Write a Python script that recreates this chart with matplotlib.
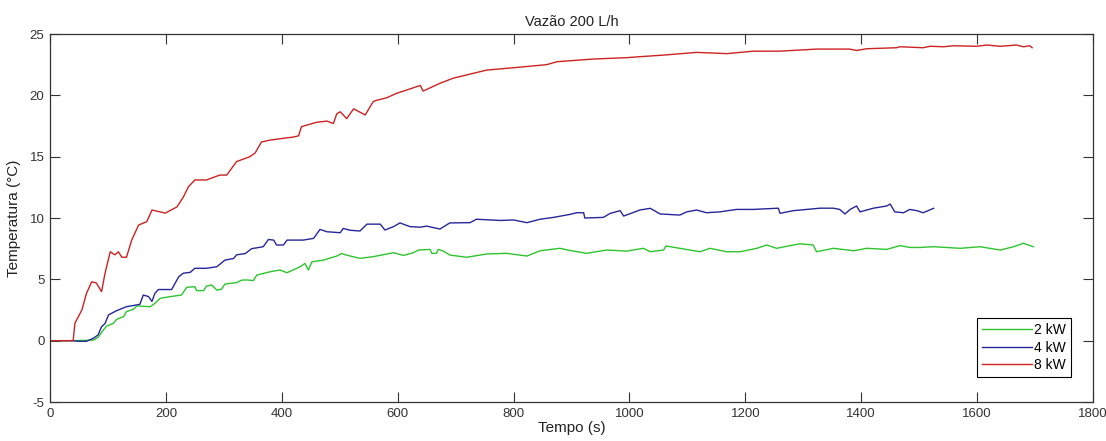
import matplotlib.pyplot as plt

plt.rcParams['font.family'] = ['Liberation Sans', 'DejaVu Sans']
plt.rcParams['axes.unicode_minus'] = False

# 2 kW
t_2kw = [0, 40, 75, 83, 92, 98, 109, 115, 127, 132, 144, 150, 173, 181, 190, 207, 227, 236,
         250, 253, 265, 270, 279, 288, 296, 302, 322, 331, 340, 351, 357, 380, 397, 409, 432,
         440, 446, 452, 472, 495, 503, 518, 535, 558, 593, 610, 627, 636, 656, 659, 667, 670,
         679, 690, 719, 754, 788, 823, 846, 880, 898, 926, 961, 995, 1024, 1036, 1059, 1063,
         1087, 1122, 1139, 1168, 1191, 1220, 1237, 1254, 1294, 1317, 1323, 1352, 1387, 1410,
         1444, 1467, 1484, 1502, 1525, 1571, 1605, 1640, 1663, 1680, 1697]
T_2kw = [0, 0, 0.05, 0.27, 0.87, 1.2, 1.4, 1.74, 1.96, 2.37, 2.56, 2.83, 2.77, 3.04, 3.45, 3.59,
         3.72, 4.35, 4.4, 4.08, 4.08, 4.45, 4.54, 4.12, 4.2, 4.62, 4.73, 4.94, 4.95, 4.9, 5.35,
         5.62, 5.76, 5.54, 6.03, 6.3, 5.76, 6.43, 6.57, 6.9, 7.1, 6.9, 6.71, 6.85, 7.17, 6.95,
         7.17, 7.39, 7.44, 7.12, 7.12, 7.44, 7.3, 6.98, 6.8, 7.07, 7.12, 6.9, 7.33, 7.53, 7.35,
         7.12, 7.39, 7.3, 7.53, 7.25, 7.39, 7.72, 7.53, 7.25, 7.53, 7.25, 7.25, 7.53, 7.8, 7.53,
         7.9, 7.8, 7.25, 7.53, 7.33, 7.53, 7.44, 7.75, 7.6, 7.6, 7.66, 7.53, 7.66, 7.39, 7.66,
         7.94, 7.66]

# 4 kW
t_4kw = [0, 40, 49, 63, 75, 83, 89, 95, 101, 115, 132, 155, 161, 170, 176, 181, 187, 210, 222,
         230, 242, 250, 270, 288, 302, 317, 322, 337, 348, 368, 377, 386, 391, 403, 409, 437,
         455, 466, 478, 501, 506, 518, 535, 547, 570, 578, 593, 604, 621, 639, 650, 673, 690,
         725, 736, 777, 800, 823, 846, 869, 898, 909, 921, 923, 955, 967, 984, 990, 1001, 1018,
         1036, 1053, 1087, 1099, 1116, 1133, 1156, 1185, 1214, 1257, 1260, 1283, 1329, 1352,
         1363, 1372, 1381, 1392, 1398, 1421, 1444, 1450, 1458, 1473, 1484, 1496, 1507, 1525]
T_4kw = [0, 0, -0.05, -0.05, 0.2, 0.47, 1.14, 1.4, 2.1, 2.45, 2.77, 2.96, 3.72, 3.6, 3.2, 3.85,
         4.17, 4.17, 5.2, 5.5, 5.57, 5.9, 5.9, 6.03, 6.57, 6.7, 7.0, 7.1, 7.5, 7.66, 8.25, 8.2,
         7.8, 7.8, 8.2, 8.2, 8.34, 9.07, 8.88, 8.8, 9.15, 9.0, 8.94, 9.5, 9.5, 9.02, 9.3, 9.6,
         9.3, 9.25, 9.34, 9.1, 9.6, 9.62, 9.9, 9.8, 9.84, 9.62, 9.9, 10.05, 10.3, 10.43, 10.43,
         10.0, 10.05, 10.38, 10.6, 10.16, 10.35, 10.65, 10.79, 10.33, 10.24, 10.5, 10.65, 10.43,
         10.5, 10.7, 10.7, 10.8, 10.38, 10.6, 10.8, 10.8, 10.7, 10.33, 10.7, 10.98, 10.5, 10.8,
         10.98, 11.14, 10.5, 10.43, 10.7, 10.6, 10.43, 10.79]

# 8 kW
t_8kw = [0, 40, 43, 55, 63, 72, 80, 89, 95, 104, 112, 118, 124, 132, 141, 153, 167, 176, 199,
         219, 230, 239, 250, 270, 293, 305, 322, 345, 354, 365, 380, 403, 420, 429, 434, 460,
         478, 489, 495, 501, 512, 524, 544, 558, 564, 581, 598, 639, 644, 673, 696, 731, 754,
         800, 857, 875, 938, 995, 1018, 1059, 1116, 1168, 1214, 1259, 1323, 1380, 1392, 1410,
         1461, 1467, 1507, 1519, 1542, 1559, 1599, 1617, 1640, 1668, 1680, 1691, 1695]
T_8kw = [0, 0, 1.42, 2.5, 3.86, 4.8, 4.7, 4.0, 5.5, 7.25, 7.0, 7.25, 6.8, 6.8, 8.2, 9.43, 9.7,
         10.65, 10.4, 10.9, 11.7, 12.55, 13.1, 13.1, 13.5, 13.5, 14.6, 15.0, 15.3, 16.2, 16.35,
         16.5, 16.6, 16.7, 17.45, 17.8, 17.9, 17.7, 18.5, 18.66, 18.1, 18.9, 18.4, 19.5, 19.6,
         19.8, 20.16, 20.8, 20.35, 20.98, 21.4, 21.8, 22.06, 22.25, 22.5, 22.74, 22.96, 23.07,
         23.15, 23.28, 23.5, 23.4, 23.6, 23.6, 23.77, 23.77, 23.66, 23.8, 23.88, 23.96, 23.88,
         24.0, 23.96, 24.04, 24.0, 24.1, 24.0, 24.1, 23.96, 24.04, 23.88]

fig = plt.figure(figsize=(11.06, 4.41), dpi=100)
ax = fig.add_axes([0.0452, 0.0884, 0.9430, 0.8345])

ax.plot(t_2kw, T_2kw, color='#2ec42e', lw=1.0, label='2 kW')
ax.plot(t_4kw, T_4kw, color='#26269a', lw=1.0, label='4 kW')
ax.plot(t_8kw, T_8kw, color='#cc2222', lw=1.0, label='8 kW')

ax.set_xlim(0, 1800)
ax.set_ylim(-5, 25)
ax.set_xticks(range(0, 1801, 200))
ax.set_yticks(range(-5, 26, 5))
ax.tick_params(direction='in', length=7, width=0.8, top=True, right=True,
               labelsize=9.5, colors='#333333', pad=4)
for s in ax.spines.values():
    s.set_color('#333333')
    s.set_linewidth(0.9)

ax.set_title('Vazão 200 L/h', fontsize=10.5, color='#222222', pad=6)
ax.set_xlabel('Tempo (s)', fontsize=11, color='#222222', labelpad=1)
ax.set_ylabel('Temperatura (°C)', fontsize=11, color='#222222', labelpad=6)

leg = ax.legend(loc='lower right', bbox_to_anchor=(0.979, 0.068), borderaxespad=0,
                fancybox=False, framealpha=1, edgecolor='black', fontsize=10,
                handlelength=3.6, handletextpad=0.2, borderpad=0.35, labelspacing=0.25)
leg.get_frame().set_linewidth(0.8)

fig.savefig('out.png', dpi=100)
